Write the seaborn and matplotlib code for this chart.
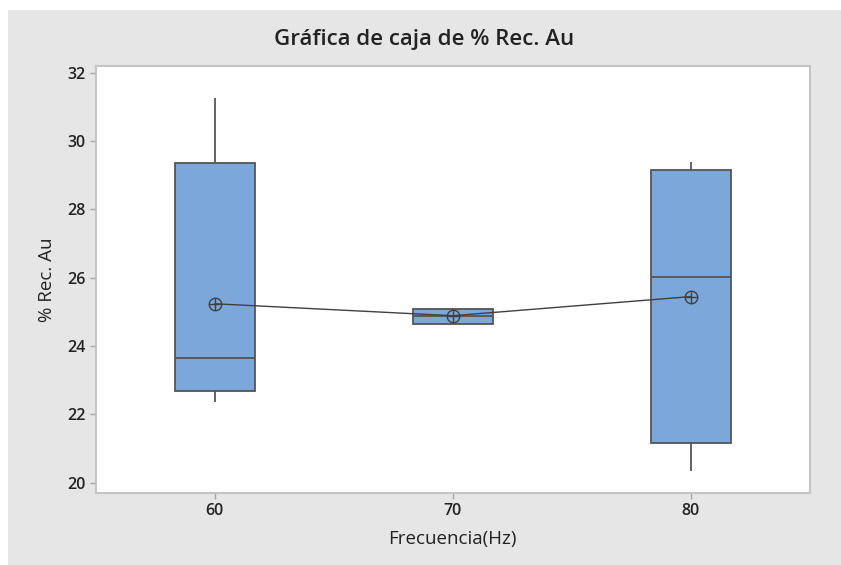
import numpy as np
import pandas as pd
import matplotlib
matplotlib.use("Agg")
import matplotlib.pyplot as plt
from matplotlib.patches import Rectangle
import seaborn as sns

# Frequency levels (Hz)
frecuencia = [60, 70, 80]

# Five-number summary of % Rec. Au for each frequency level
minimo = [22.37, 24.65, 20.34]
q1 = [22.70, 24.66, 21.17]
mediana = [23.65, 24.87, 26.02]
q3 = [29.35, 25.10, 29.15]
maximo = [31.26, 25.11, 29.39]

# Group means (connected by a line)
media = [25.24, 24.89, 25.45]

y_ticks = [20, 22, 24, 26, 28, 30, 32]

titulo = "Gráfica de caja de % Rec. Au"
etiqueta_x = "Frecuencia(Hz)"
etiqueta_y = "% Rec. Au"

# Long table: the five summary values of each group give exact quartiles
rows = []
for f, a, b, c, d, e in zip(frecuencia, minimo, q1, mediana, q3, maximo):
    for v in (a, b, c, d, e):
        rows.append({"Frecuencia": f, "Rec": v})
df = pd.DataFrame(rows)

sns.set_theme(style="white")
plt.rcParams["font.family"] = ["Open Sans", "DejaVu Sans"]

fig = plt.figure(figsize=(8.41, 5.65), dpi=100)
fig.patch.set_facecolor("white")
fig.add_artist(Rectangle((8 / 841, 0), 1 - 8 / 841, 1 - 10 / 565,
                         transform=fig.transFigure, facecolor="#e6e6e6",
                         edgecolor="none", zorder=-10))

ax = fig.add_axes([95.7 / 841, 1 - 493 / 565, (810 - 95.7) / 841, (493 - 66) / 565])
ax.set_facecolor("white")

box_fill = "#7ba7da"
edge = "#555555"

sns.boxplot(data=df, x="Frecuencia", y="Rec", native_scale=True,
            whis=(0, 100), width=0.335, color=box_fill, saturation=1,
            linecolor=edge, linewidth=1.3, showcaps=False, fliersize=0,
            ax=ax)

line_col = "#404040"
sns.lineplot(x=frecuencia, y=media, color=line_col, linewidth=1.0,
             marker="o", markersize=9, markerfacecolor="none",
             markeredgecolor=line_col, markeredgewidth=1.0, ax=ax, zorder=5)
sns.scatterplot(x=frecuencia, y=media, marker="+", s=81, color=line_col,
                linewidth=1.0, ax=ax, zorder=6, legend=False)

ax.set_xlim(55, 85)
ax.set_ylim(19.7, 32.2)
ax.set_xticks(frecuencia)
ax.set_yticks(y_ticks)
ax.tick_params(axis="both", which="major", length=4, width=1,
               color="#a6a6a6", labelcolor="#222222", labelsize=11.5,
               left=True, bottom=True, pad=3)
for lab in ax.get_yticklabels() + ax.get_xticklabels():
    lab.set_fontweight("semibold")
for s in ax.spines.values():
    s.set_visible(True)
    s.set_color("#c4c4c4")
    s.set_linewidth(1.5)

ax.set_xlabel(etiqueta_x, fontsize=13.5, color="#222222", labelpad=8)
ax.set_ylabel(etiqueta_y, fontsize=13.5, color="#222222", labelpad=8)

fig.text(424.5 / 841, 1 - 40 / 565, titulo, ha="center", va="center",
         fontsize=16, fontweight="semibold", color="#222222")

fig.savefig("out.png", dpi=100)
